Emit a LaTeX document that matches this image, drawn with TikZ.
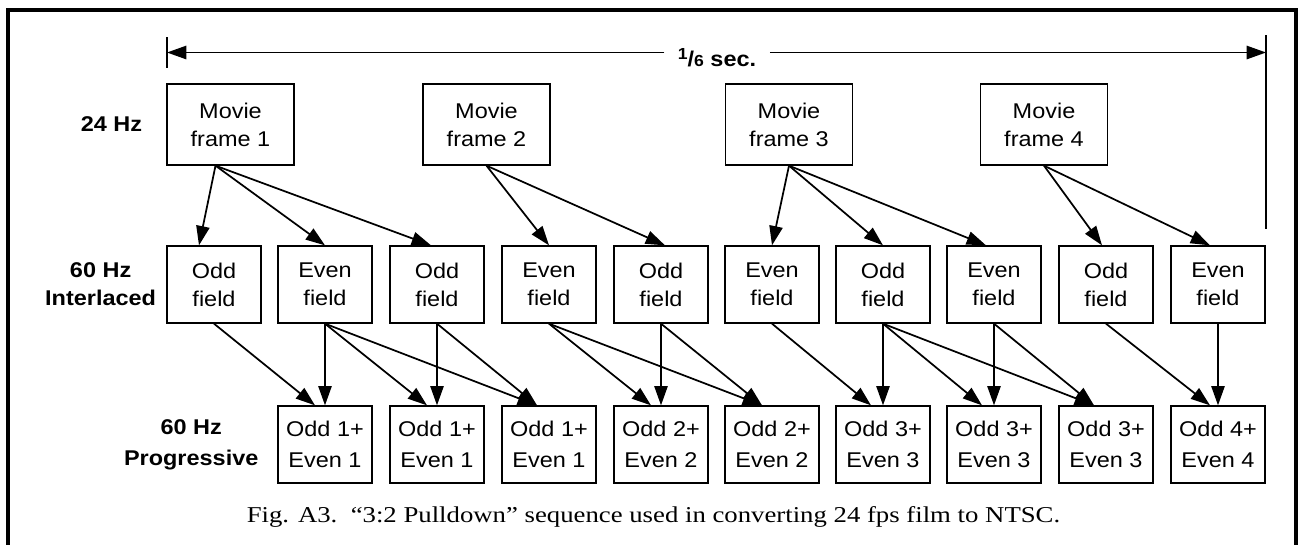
\documentclass[tikz,border=0pt]{standalone}
\usepackage{fontspec}
\setmainfont{Liberation Serif}
\setsansfont[FakeStretch=1.1]{Liberation Sans}
\newfontfamily\figcapfont[FakeStretch=1.18]{Liberation Serif}
\usepackage{tikz}
\usetikzlibrary{
arrows.meta,
positioning
}

\begin{document}
\begin{tikzpicture}[x=0.75pt, y=-0.75pt,
  cell/.style={draw, line width=1pt, align=center, inner sep=0pt,
    font=\sffamily\fontsize{16}{21}\selectfont},
  moviebox/.style={cell, minimum width=95.25pt, minimum height=60.75pt},
  fieldbox/.style={cell, minimum width=70.5pt, minimum height=57.75pt},
  progbox/.style={fieldbox, font=\sffamily\fontsize{16}{23}\selectfont},
  rowlabel/.style={inner sep=0pt, align=center,
    font=\sffamily\bfseries\fontsize{16}{21}\selectfont},
  arr/.style={line width=1.3pt, -{Triangle[length=14.5pt, width=10pt]}}]
  \useasboundingbox (0,0) rectangle (1303,544);
  % Outer frame (bottom edge falls off the page)
  \draw[line width=2.5pt] (8,548) -- (8,10) -- (1296,10) -- (1296,548);
  % Time span on top
  \coordinate (tl) at (167,52.5);
  \coordinate (tr) at (1266,52.5);
  \node[anchor=base, inner xsep=10pt, inner ysep=0pt,
    font=\sffamily\bfseries\fontsize{16}{20}\selectfont] (span) at (717,66)
    {\raisebox{5pt}{\fontsize{12}{12}\selectfont 1}/{\fontsize{12}{12}\selectfont 6} sec.};
  \draw[arr] (span.west |- tl) -- (tl);
  \draw[arr] (span.east |- tr) -- (tr);
  \draw[line width=1pt] (167,37) -- (167,68);
  \draw[line width=1pt] (1266,35) -- (1266,229);
  % 24 Hz movie frames
  \node[moviebox] (f1) at (230.5,124.5) {Movie\\frame 1};
  \node[moviebox] (f2) at (486.5,124.5) {Movie\\frame 2};
  \node[moviebox] (f3) at (789,124.5) {Movie\\frame 3};
  \node[moviebox] (f4) at (1044,124.5) {Movie\\frame 4};
  % 60 Hz interlaced fields
  \node[fieldbox] (i1) at (214,284.5) {Odd\\field};
  \node[fieldbox] (i2) at (325,284.5) {Even\\field};
  \node[fieldbox] (i3) at (437,284.5) {Odd\\field};
  \node[fieldbox] (i4) at (549,284.5) {Even\\field};
  \node[fieldbox] (i5) at (661,284.5) {Odd\\field};
  \node[fieldbox] (i6) at (772,284.5) {Even\\field};
  \node[fieldbox] (i7) at (883,284.5) {Odd\\field};
  \node[fieldbox] (i8) at (994,284.5) {Even\\field};
  \node[fieldbox] (i9) at (1106,284.5) {Odd\\field};
  \node[fieldbox] (i10) at (1218,284.5) {Even\\field};
  % 60 Hz progressive frames
  \node[progbox] (p2) at (325,444.5) {Odd 1+\\Even 1};
  \node[progbox] (p3) at (437,444.5) {Odd 1+\\Even 1};
  \node[progbox] (p4) at (549,444.5) {Odd 1+\\Even 1};
  \node[progbox] (p5) at (661,444.5) {Odd 2+\\Even 2};
  \node[progbox] (p6) at (772,444.5) {Odd 2+\\Even 2};
  \node[progbox] (p7) at (883,444.5) {Odd 3+\\Even 3};
  \node[progbox] (p8) at (994,444.5) {Odd 3+\\Even 3};
  \node[progbox] (p9) at (1106,444.5) {Odd 3+\\Even 3};
  \node[progbox] (p10) at (1218,444.5) {Odd 4+\\Even 4};
  % Row labels
  \node[rowlabel, left=18pt of f1] (hz24) {24 Hz};
  \node[rowlabel, left=7.5pt of i1] (hzint) {60 Hz\\Interlaced};
  \node[rowlabel, left=14pt of p2, font=\sffamily\bfseries\fontsize{16}{23}\selectfont] (hzprog) {60 Hz\\Progressive};
  % Frames to fields
  \coordinate (f1s) at ([xshift=-11.25pt]f1.south);
  \draw[arr] (f1s) -- ([xshift=-11.25pt]i1.north);
  \draw[arr] (f1s) -- (i2.north);
  \draw[arr] (f1s) -- ([xshift=-4.5pt]i3.north);
  \draw[arr] (f2.south) -- (i4.north);
  \draw[arr] (f2.south) -- ([xshift=3pt]i5.north);
  \draw[arr] (f3.south) -- (i6.north);
  \draw[arr] (f3.south) -- (i7.north);
  \draw[arr] (f3.south) -- ([xshift=-6pt]i8.north);
  \draw[arr] (f4.south) -- ([xshift=-3pt]i9.north);
  \draw[arr] (f4.south) -- ([xshift=-6pt]i10.north);
  % Fields to progressive frames
  \draw[arr] (i1.south) -- ([xshift=-7.5pt]p2.north);
  \draw[arr] (i2.south) -- (p2.north);
  \draw[arr] (i2.south) -- ([xshift=-7.5pt]p3.north);
  \draw[arr] (i2.south) -- ([xshift=-9pt]p4.north);
  \draw[arr] (i3.south) -- (p3.north);
  \draw[arr] (i3.south) -- ([xshift=-9pt]p4.north);
  \draw[arr] (i4.south) -- ([xshift=-7.5pt]p5.north);
  \draw[arr] (i4.south) -- ([xshift=-7.5pt]p6.north);
  \draw[arr] (i5.south) -- (p5.north);
  \draw[arr] (i5.south) -- ([xshift=-7.5pt]p6.north);
  \draw[arr] (i6.south) -- ([xshift=-9pt]p7.north);
  \draw[arr] (i7.south) -- (p7.north);
  \draw[arr] (i7.south) -- ([xshift=-9pt]p8.north);
  \draw[arr] (i7.south) -- ([xshift=-9pt]p9.north);
  \draw[arr] (i8.south) -- (p8.north);
  \draw[arr] (i8.south) -- ([xshift=-9pt]p9.north);
  \draw[arr] (i9.south) -- ([xshift=-6pt]p10.north);
  \draw[arr] (i10.south) -- (p10.north);
  % Caption
  \node[anchor=base, inner sep=0pt, font=\figcapfont\fontsize{17}{20}\selectfont] (caption) at (653.5,522)
    {Fig. A3.\ \ “3:2 Pulldown” sequence used in converting 24 fps film to NTSC.};
\end{tikzpicture}
\end{document}
